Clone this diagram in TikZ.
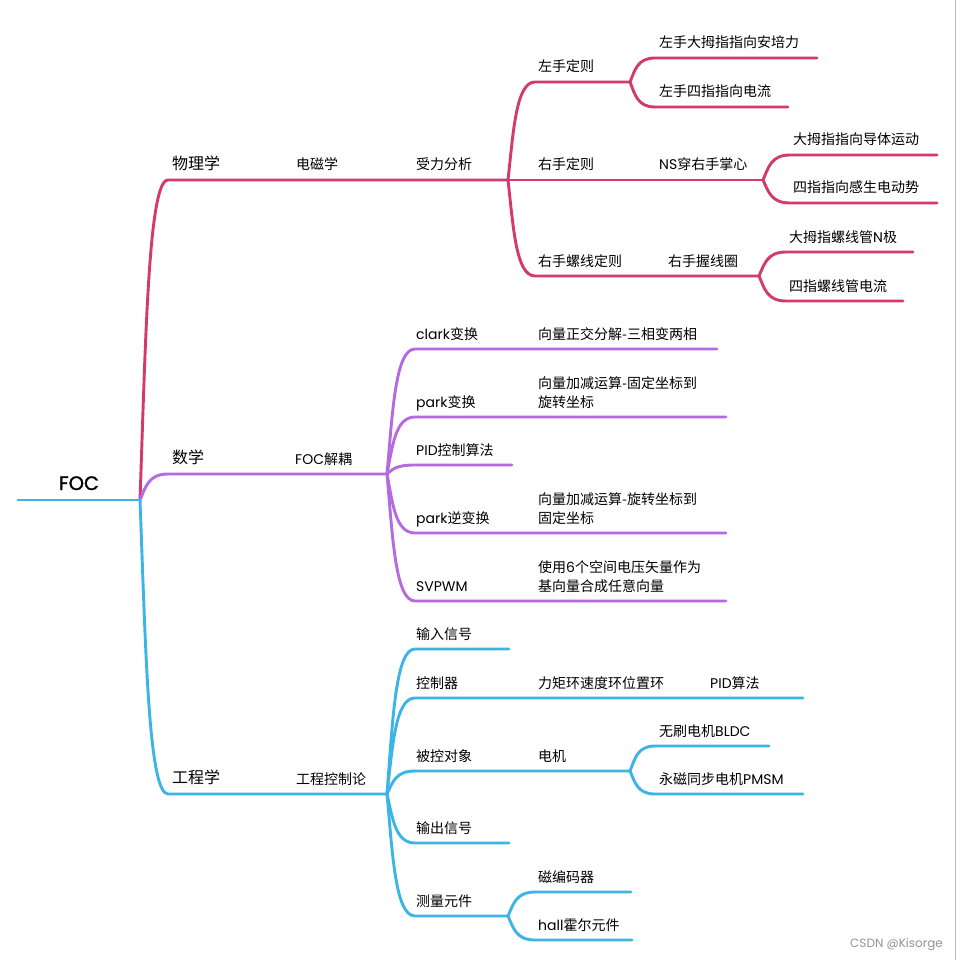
\documentclass[tikz,border=0pt]{standalone}
\usepackage{fontspec}
\setmainfont{Noto Sans CJK SC}
\newfontfamily\lat{Poppins}
\newfontfamily\latm[FakeBold=1.4]{Poppins}
\usetikzlibrary{calc}
\definecolor{cR}{HTML}{D23A6E}
\definecolor{cP}{HTML}{B46AE0}
\definecolor{cB}{HTML}{3CB4E6}
\newcommand\la[1]{{\lat #1}}
\newcommand\twol[2]{\begin{tabular}[b]{@{}l@{}}#1\\#2\end{tabular}}
\tikzset{
  br/.style={line width=2.9pt, line cap=round, line join=round},
  tx/.style={anchor=base west, inner sep=0pt, font=\fontsize{14}{19}\selectfont},
  tb/.style={anchor=base west, inner sep=0pt, font=\fontsize{16}{20}\selectfont},
}
\newcommand\branch[4]{\draw[br,#1] let \p1=(#2), \p2=(#3) in (\p1) .. controls ({\x1+0.2*(\x2-\x1)},{\y1+0.5*(\y2-\y1)}) and ({\x1+0.3*(\x2-\x1)},\y2) .. (\p2) -- (#4);}
\begin{document}
\begin{tikzpicture}[x=1pt,y=-1pt]
\fill[white] (0,0) rectangle (956,960);
\useasboundingbox (0,0) rectangle (956,960);
\draw[black!28, line width=1pt] (955.5,0) -- (955.5,960);
% coordinates
\coordinate (J0) at (140,500);
\coordinate (root) at (18,500);
\coordinate (a0) at (168,180); \coordinate (J1) at (508,180);
\coordinate (a1) at (535,82); \coordinate (J2) at (630,82);
\coordinate (a11) at (655,58); \coordinate (e11) at (817,58);
\coordinate (a12) at (655,107); \coordinate (e12) at (788,107);
\coordinate (J3) at (763,180);
\coordinate (a21) at (790,155); \coordinate (e21) at (937,155);
\coordinate (a22) at (790,203); \coordinate (e22) at (937,203);
\coordinate (a3) at (535,276); \coordinate (J4) at (759,276);
\coordinate (a31) at (786,252); \coordinate (e31) at (913,252);
\coordinate (a32) at (786,301); \coordinate (e32) at (903,301);
\coordinate (b0) at (168,474); \coordinate (J5) at (387,474);
\coordinate (b1) at (415,349); \coordinate (f1) at (717,349);
\coordinate (b2) at (415,417); \coordinate (f2) at (726,417);
\coordinate (b3) at (415,465); \coordinate (f3) at (512,465);
\coordinate (b4) at (415,533); \coordinate (f4) at (726,533);
\coordinate (b5) at (415,601); \coordinate (f5) at (726,601);
\coordinate (c0) at (168,794); \coordinate (J6) at (387,794);
\coordinate (c1) at (415,649); \coordinate (g1) at (509,649);
\coordinate (c2) at (415,698); \coordinate (g2) at (803,698);
\coordinate (c3) at (415,771); \coordinate (J7) at (630,771);
\coordinate (c31) at (655,746); \coordinate (g31) at (769,746);
\coordinate (c32) at (655,794); \coordinate (g32) at (803,794);
\coordinate (c4) at (415,843); \coordinate (g4) at (509,843);
\coordinate (c5) at (415,916); \coordinate (J8) at (508,916);
\coordinate (c51) at (535,892); \coordinate (g51) at (631,892);
\coordinate (c52) at (535,940); \coordinate (g52) at (632,940);
% red
\branch{cR}{J0}{a0}{J1}
\branch{cR}{J1}{a1}{J2}
\branch{cR}{J2}{a11}{e11}
\branch{cR}{J2}{a12}{e12}
\draw[br,cR] (J1) -- (J3);
\branch{cR}{J3}{a21}{e21}
\branch{cR}{J3}{a22}{e22}
\branch{cR}{J1}{a3}{J4}
\branch{cR}{J4}{a31}{e31}
\branch{cR}{J4}{a32}{e32}
% purple
\branch{cP}{J0}{b0}{J5}
\branch{cP}{J5}{b1}{f1}
\branch{cP}{J5}{b2}{f2}
\branch{cP}{J5}{b3}{f3}
\branch{cP}{J5}{b4}{f4}
\branch{cP}{J5}{b5}{f5}
% blue
\draw[br,cB] (root) -- (J0);
\branch{cB}{J0}{c0}{J6}
\branch{cB}{J6}{c1}{g1}
\branch{cB}{J6}{c2}{g2}
\branch{cB}{J6}{c3}{J7}
\branch{cB}{J7}{c31}{g31}
\branch{cB}{J7}{c32}{g32}
\branch{cB}{J6}{c4}{g4}
\branch{cB}{J6}{c5}{J8}
\branch{cB}{J8}{c51}{g51}
\branch{cB}{J8}{c52}{g52}
% texts
\node[anchor=base, inner sep=0pt, font=\fontsize{19.5}{22}\selectfont\latm] (foc) at (79,490) {FOC};
\node[tb] (wl) at (172,169.5) {物理学};
\node[tx] (dc) at (296,170) {电磁学};
\node[tx] (sl) at (416,170) {受力分析};
\node[tx] (zs) at (538,72) {左手定则};
\node[tx] (zs1) at (659,48) {左手大拇指指向安培力};
\node[tx] (zs2) at (659,97) {左手四指指向电流};
\node[tx] (ys) at (538,170) {右手定则};
\node[tx] (ns) at (659,170) {\la{NS}穿右手掌心};
\node[tx] (ys1) at (793,145) {大拇指指向导体运动};
\node[tx] (ys2) at (793,193) {四指指向感生电动势};
\node[tx] (lx) at (538,266) {右手螺线定则};
\node[tx] (wq) at (668,266) {右手握线圈};
\node[tx] (lx1) at (789,242) {大拇指螺线管\la{N}极};
\node[tx] (lx2) at (789,291) {四指螺线管电流};
\node[tb] (sx) at (172,463.5) {数学};
\node[tx] (jo) at (295,464) {\la{FOC}解耦};
\node[tx] (cl) at (416,339) {\la{clark}变换};
\node[tx] (cl1) at (538,339) {向量正交分解-三相变两相};
\node[tx] (pk) at (416,407) {\la{park}变换};
\node[tx] (pk1) at (538,407) {\twol{向量加减运算-固定坐标到}{旋转坐标}};
\node[tx] (pid) at (416,455) {\la{PID}控制算法};
\node[tx] (ipk) at (416,523) {\la{park}逆变换};
\node[tx] (ipk1) at (538,523) {\twol{向量加减运算-旋转坐标到}{固定坐标}};
\node[tx] (sv) at (416,591) {\la{SVPWM}};
\node[tx] (sv1) at (538,591) {\twol{使用\la{6}个空间电压矢量作为}{基向量合成任意向量}};
\node[tb] (gc) at (172,783.5) {工程学};
\node[tx] (kz) at (296,784) {工程控制论};
\node[tx] (in) at (416,639) {输入信号};
\node[tx] (ct) at (416,688) {控制器};
\node[tx] (lj) at (538,688) {力矩环速度环位置环};
\node[tx] (pa) at (710,688) {\la{PID}算法};
\node[tx] (bk) at (416,761) {被控对象};
\node[tx] (dj) at (538,761) {电机};
\node[tx] (bl) at (659,736) {无刷电机\la{BLDC}};
\node[tx] (pm) at (659,784) {永磁同步电机\la{PMSM}};
\node[tx] (out) at (416,833) {输出信号};
\node[tx] (cm) at (416,906) {测量元件};
\node[tx] (bm) at (538,882) {磁编码器};
\node[tx] (hl) at (538,930) {\la{hall}霍尔元件};
\node[anchor=base west, inner sep=0pt, text=black!42, font=\fontsize{12}{14}\selectfont\lat] (wm) at (850,947) {CSDN @Kisorge};
\end{tikzpicture}
\end{document}
